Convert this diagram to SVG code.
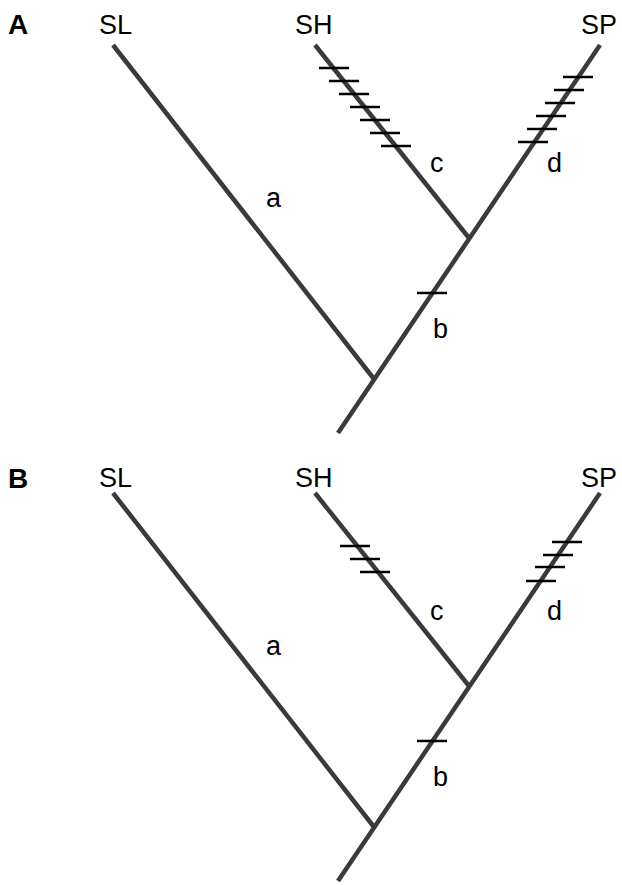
<svg xmlns="http://www.w3.org/2000/svg" width="622" height="885" viewBox="0 0 622 885">
<style>
.br{stroke:#3a3a3a;stroke-width:4.5;stroke-linecap:butt;fill:none}
.tk{stroke:#000;stroke-width:2.5;fill:none}
.lb{font-family:"Liberation Sans",Arial,sans-serif;font-size:27px;fill:#000}
.pn{font-family:"Liberation Sans",Arial,sans-serif;font-size:28px;font-weight:bold;fill:#000}
</style>
<rect width="622" height="885" fill="#fff"/>
<g id="panelA">
  <text class="pn" x="8" y="34">A</text>
  <g id="A-SL"><text class="lb" x="99" y="34">SL</text></g>
  <g id="A-SH"><text class="lb" x="295" y="34">SH</text></g>
  <g id="A-SP"><text class="lb" x="581" y="34">SP</text></g>
  <g id="A-connectors">
    <line class="br" x1="113" y1="45" x2="374" y2="379"/>
    <line class="br" x1="315" y1="45" x2="469" y2="238"/>
    <line class="br" x1="600" y1="45" x2="338" y2="433"/>
  </g>
  <g id="A-ticks">
    <line class="tk" x1="319" y1="68" x2="349" y2="68"/>
    <line class="tk" x1="329" y1="81" x2="359" y2="81"/>
    <line class="tk" x1="339" y1="94" x2="369" y2="94"/>
    <line class="tk" x1="350" y1="107" x2="380" y2="107"/>
    <line class="tk" x1="360" y1="120" x2="390" y2="120"/>
    <line class="tk" x1="370" y1="133" x2="400" y2="133"/>
    <line class="tk" x1="381" y1="146" x2="411" y2="146"/>
    <line class="tk" x1="563" y1="77" x2="593" y2="77"/>
    <line class="tk" x1="554" y1="90" x2="584" y2="90"/>
    <line class="tk" x1="545" y1="103" x2="575" y2="103"/>
    <line class="tk" x1="536" y1="116" x2="566" y2="116"/>
    <line class="tk" x1="527" y1="129" x2="557" y2="129"/>
    <line class="tk" x1="518" y1="142" x2="548" y2="142"/>
    <line class="tk" x1="417" y1="293" x2="447" y2="293"/>
  </g>
  <g id="A-labels">
    <text class="lb" x="266" y="207">a</text>
    <text class="lb" x="433" y="338">b</text>
    <text class="lb" x="430" y="172">c</text>
    <text class="lb" x="547" y="172">d</text>
  </g>
</g>
<g id="panelB" transform="translate(0,448)">
  <text class="pn" x="8" y="40">B</text>
  <g id="B-SL"><text class="lb" x="99" y="39">SL</text></g>
  <g id="B-SH"><text class="lb" x="295" y="39">SH</text></g>
  <g id="B-SP"><text class="lb" x="581" y="39">SP</text></g>
  <g id="B-connectors">
    <line class="br" x1="113" y1="45" x2="374" y2="379"/>
    <line class="br" x1="315" y1="45" x2="469" y2="238"/>
    <line class="br" x1="600" y1="45" x2="338" y2="433"/>
  </g>
  <g id="B-ticks">
    <line class="tk" x1="340" y1="98" x2="370" y2="98"/>
    <line class="tk" x1="350" y1="111" x2="380" y2="111"/>
    <line class="tk" x1="360" y1="124" x2="390" y2="124"/>
    <line class="tk" x1="552" y1="94" x2="582" y2="94"/>
    <line class="tk" x1="543" y1="107" x2="573" y2="107"/>
    <line class="tk" x1="535" y1="119" x2="565" y2="119"/>
    <line class="tk" x1="526" y1="133" x2="556" y2="133"/>
    <line class="tk" x1="417" y1="293" x2="447" y2="293"/>
  </g>
  <g id="B-labels">
    <text class="lb" x="266" y="207">a</text>
    <text class="lb" x="433" y="338">b</text>
    <text class="lb" x="430" y="172">c</text>
    <text class="lb" x="547" y="172">d</text>
  </g>
</g>
</svg>
